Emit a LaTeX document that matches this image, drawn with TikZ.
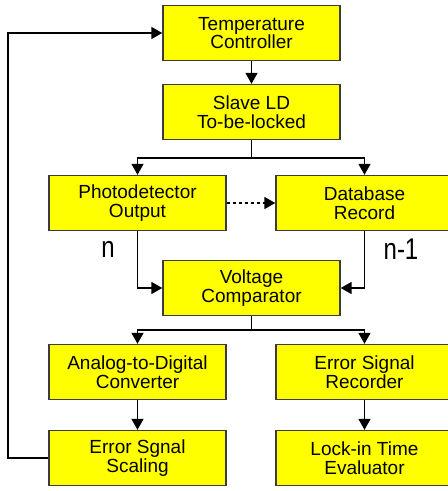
\documentclass[tikz,border=0pt]{standalone}
\usepackage{fontspec}
\setmainfont{Liberation Sans}
\usepackage{xcolor}
\usepackage{tikz}
\usetikzlibrary{positioning,arrows.meta}

\definecolor{boxyellow}{RGB}{255,255,0}
\definecolor{boxline}{RGB}{60,60,60}

\tikzset{
  block/.style = {draw = boxline, line width = 1.4pt, fill = boxyellow,
    minimum width = 177pt, minimum height = 55pt, inner sep = 0pt,
    align = center, font = \fontsize{19}{18.5}\selectfont},
  link/.style = {line width = 1.6pt, -{Triangle[length = 11pt, width = 12pt]}}
}

\begin{document}
\begin{tikzpicture}[x = 1pt, y = -1pt]
  \useasboundingbox (0, 0) rectangle (448, 491);

  \node[block] (T1) at (251.5, 33) {
    Temperature\\Controller
  };

  \node[block] (T2) at (251.5, 112) {
    Slave LD\\To-be-locked
  };

  \node[block] (P1) at (137.5, 203) {
    Photodetector\\Output
  };

  \node[block] (P2) at (364.5, 203) {
    Database\\Record
  };

  \node[block] (V1) at (251.5, 288) {
    Voltage\\Comparator
  };

  \node[block] (A1) at (137.5, 372) {
    Analog-to-Digital\\Converter
  };

  \node[block] (A2) at (364.5, 372) {
    Error Signal\\Recorder
  };

  \node[block] (S1) at (137.5, 458) {
    Error Sgnal\\Scaling
  };

  \node[block] (S2) at (364.5, 458) {
    Lock-in Time\\Evaluator
  };

  \node[font = \fontsize{24}{24}\selectfont, yscale = 1.25, transform shape] (N1) at (108, 249) {n};
  \node[font = \fontsize{24}{24}\selectfont, yscale = 1.25, transform shape] (N2) at (401, 249) {n-1};

  \coordinate (B1) at (251.5, 158);
  \coordinate (B2) at (251.5, 330);
  \coordinate (L1) at (8, 458);
  \coordinate (L2) at (8, 33);

  \draw[link] (T1) -- (T2);
  \draw[line width = 1.6pt] (T2) -- (B1);
  \draw[link] (B1) -| (P1);
  \draw[link] (B1) -| (P2);
  \draw[link, dashed] (P1) -- (P2);
  \draw[link] (P1) |- (V1);
  \draw[link] (P2) |- (V1);
  \draw[line width = 1.6pt] (V1) -- (B2);
  \draw[link] (B2) -| (A1);
  \draw[link] (B2) -| (A2);
  \draw[link] (A1) -- (S1);
  \draw[link] (A2) -- (S2);
  \draw[link] (S1) -- (L1) -- (L2) -- (T1);
\end{tikzpicture}
\end{document}
